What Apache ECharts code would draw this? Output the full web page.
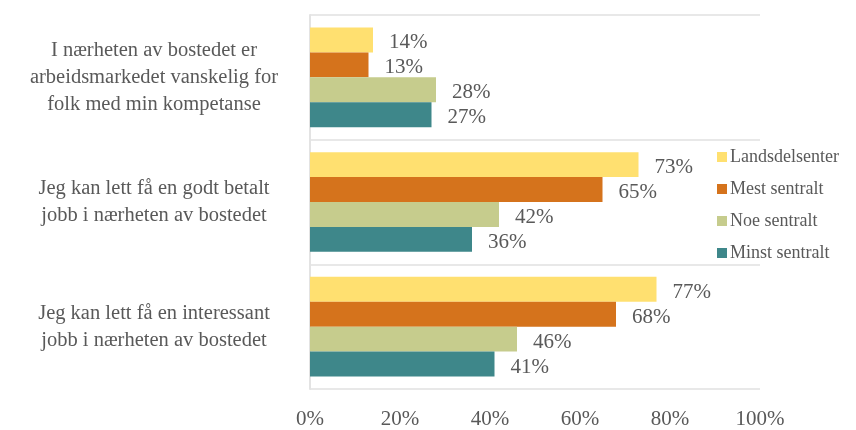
<!DOCTYPE html>
<html>
<head>
<meta charset="utf-8">
<script src="https://cdn.jsdelivr.net/npm/echarts@6/dist/echarts.min.js"></script>
<style>
  html, body { margin: 0; padding: 0; background: #fff; }
  #chart { width: 856px; height: 430px; }
</style>
</head>
<body>
<div id="chart"></div>
<script>
// Statements (top to bottom)
const categories = [
  'I nærheten av bostedet er\narbeidsmarkedet vanskelig for\nfolk med min kompetanse',
  'Jeg kan lett få en godt betalt\njobb i nærheten av bostedet',
  'Jeg kan lett få en interessant\njobb i nærheten av bostedet'
];

// Share agreeing, percent, per centrality group
const seriesNames = ['Landsdelsenter', 'Mest sentralt', 'Noe sentralt', 'Minst sentralt'];
const landsdelsenter = [14, 73, 77];
const mestSentralt = [13, 65, 68];
const noeSentralt = [28, 42, 46];
const minstSentralt = [27, 36, 41];
const seriesColors = ['#FFE070', '#D5731C', '#C6CC8D', '#3E878A'];

const xTicks = [0, 20, 40, 60, 80, 100];

const FONT = '"Liberation Serif", "DejaVu Serif", serif';
const TEXT = '#595959';

const values = [landsdelsenter, mestSentralt, noeSentralt, minstSentralt];

const chart = echarts.init(document.getElementById('chart'));
chart.setOption({
  animation: false,
  textStyle: { fontFamily: FONT, color: TEXT },
  grid: { left: 310, right: 96, top: 15, bottom: 36, containLabel: false },
  legend: {
    orient: 'vertical',
    left: 712,
    top: 143,
    itemWidth: 10,
    itemHeight: 10,
    itemGap: 14,
    icon: 'rect',
    data: seriesNames,
    textStyle: { fontFamily: FONT, color: TEXT, fontSize: 18, padding: [0, 0, 0, -2] }
  },
  xAxis: {
    type: 'value',
    min: xTicks[0],
    max: xTicks[xTicks.length - 1],
    interval: 20,
    axisLine: { show: false },
    axisTick: { show: false },
    splitLine: { show: false },
    axisLabel: {
      formatter: '{value}%',
      fontFamily: FONT,
      color: TEXT,
      fontSize: 21,
      margin: 20
    }
  },
  yAxis: {
    type: 'category',
    data: categories,
    inverse: true,
    axisLine: { show: true, lineStyle: { color: '#e3e3e3', width: 2 } },
    axisTick: { show: false },
    splitLine: { show: true, lineStyle: { color: '#e8e8e8', width: 2 } },
    axisLabel: {
      align: 'center',
      margin: 156,
      fontFamily: FONT,
      color: TEXT,
      fontSize: 20.5,
      lineHeight: 27
    }
  },
  series: seriesNames.map((name, i) => ({
    name: name,
    type: 'bar',
    data: values[i],
    barGap: '0%',
    barCategoryGap: '20%',
    itemStyle: { color: seriesColors[i] },
    label: {
      show: true,
      position: 'right',
      distance: 16,
      formatter: '{c}%',
      fontFamily: FONT,
      color: TEXT,
      fontSize: 21,
      offset: [0, 3]
    }
  }))
});
</script>
</body>
</html>
